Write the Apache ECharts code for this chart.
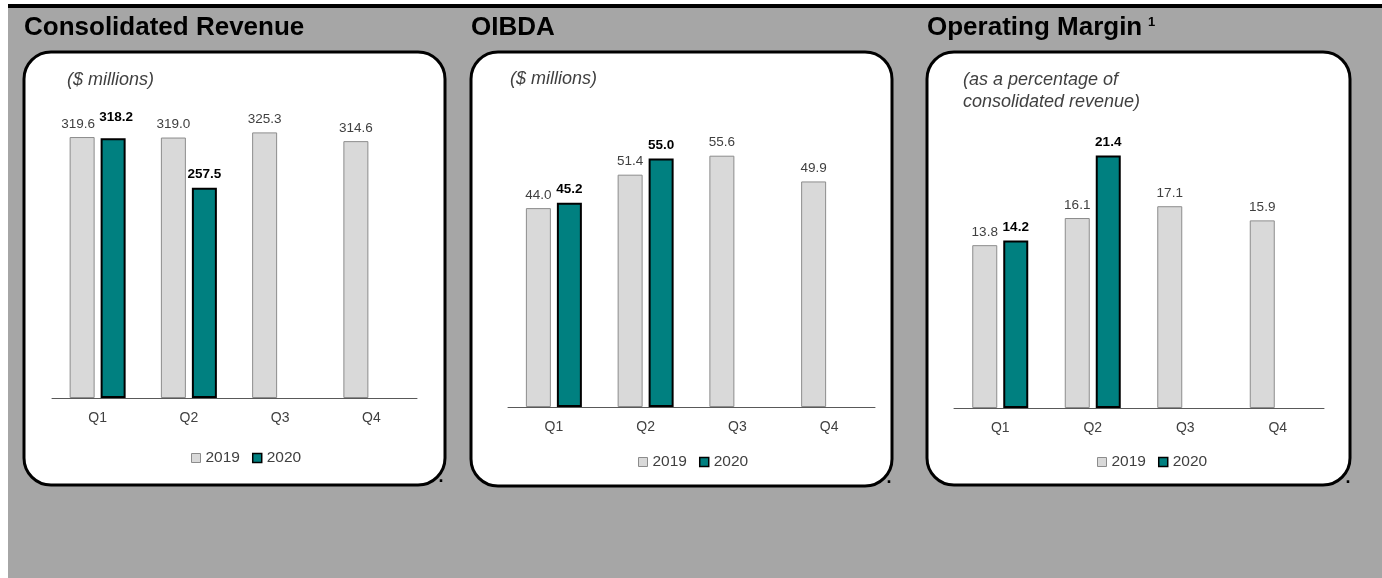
<!DOCTYPE html>
<html>
<head>
<meta charset="utf-8">
<script src="https://cdn.jsdelivr.net/npm/echarts@6/dist/echarts.min.js"></script>
<style>
  html, body { margin: 0; padding: 0; background: #ffffff; }
  #chart { width: 1382px; height: 578px; }
</style>
</head>
<body>
<div id="chart"></div>
<script>
// Quarterly results, 2019 vs 2020
const quarters = ['Q1', 'Q2', 'Q3', 'Q4'];
const seriesNames = ['2019', '2020'];

const revenue2019 = [319.6, 319.0, 325.3, 314.6];
const revenue2020 = [318.2, 257.5, null, null];

const oibda2019 = [44.0, 51.4, 55.6, 49.9];
const oibda2020 = [45.2, 55.0, null, null];

const margin2019 = [13.8, 16.1, 17.1, 15.9];
const margin2020 = [14.2, 21.4, null, null];

const panelTitles = ['Consolidated Revenue', 'OIBDA', 'Operating Margin'];
const panelUnits = ['($ millions)', '($ millions)', '(as a percentage of\nconsolidated revenue)'];

const SANS = "'Liberation Sans', Arial, sans-serif";

const GRAY_FILL = '#d9d9d9';
const GRAY_EDGE = '#8c8c8c';
const TEAL = '#008080';
const TEXT = '#404040';

// Layout of the three panels (pixels)
const panels = [
  { data: [revenue2019, revenue2020], box: [24, 52, 421, 433], titleX: 24,
    grid: { left: 52, width: 365, top: 71.4, height: 326.6 }, max: 400,
    unit: [67, 80], legend: [191, 450], dot: [441, 486],
    labelOffsets: [[[-4, 0]], [[3, -8]]] },
  { data: [oibda2019, oibda2020], box: [471, 52, 421, 434], titleX: 471,
    grid: { left: 508, width: 367, top: 90.6, height: 316.4 }, max: 70,
    unit: [510, 79], legend: [638, 454], dot: [889, 487],
    labelOffsets: [[], []] },
  { data: [margin2019, margin2020], box: [927, 52, 423, 433], titleX: 927,
    grid: { left: 954, width: 370, top: 54, height: 354 }, max: 30,
    unit: [963, 80], legend: [1097, 454], dot: [1348, 487],
    labelOffsets: [[], []] }
];

const grids = [], xAxes = [], yAxes = [], series = [], legends = [], graphics = [];

// page background: white margin, grey field, black rule along the top
graphics.push({ type: 'rect', z: -10, shape: { x: 8, y: 4, width: 1374, height: 574 }, style: { fill: '#a6a6a6' } });
graphics.push({ type: 'rect', z: -9, shape: { x: 8, y: 4, width: 1374, height: 4 }, style: { fill: '#000000' } });

panels.forEach((p, i) => {
  grids.push(Object.assign({ containLabel: false }, p.grid));
  xAxes.push({
    type: 'category', gridIndex: i, data: quarters,
    axisLine: { lineStyle: { color: '#595959', width: 1 } },
    axisTick: { show: false },
    axisLabel: { color: TEXT, fontFamily: SANS, fontSize: 14, margin: 13 }
  });
  yAxes.push({
    type: 'value', gridIndex: i, min: 0, max: p.max,
    show: false, splitLine: { show: false }
  });

  p.data.forEach((vals, s) => {
    const isNew = s === 1;
    const offs = p.labelOffsets[s] || [];
    series.push({
      type: 'bar', name: seriesNames[s], xAxisIndex: i, yAxisIndex: i,
      barWidth: 25, barGap: '24%',
      data: vals.map((v, k) => offs[k] ? { value: v, label: { offset: offs[k] } } : v),
      itemStyle: isNew
        ? { color: TEAL, borderColor: '#000000', borderWidth: 2 }
        : { color: GRAY_FILL, borderColor: GRAY_EDGE, borderWidth: 1 },
      label: {
        show: true, position: 'top', distance: 6,
        fontFamily: SANS, fontSize: 13.5,
        color: isNew ? '#000000' : TEXT,
        fontWeight: isNew ? 'bold' : 'normal',
        formatter: (d) => d.value == null ? '' : Number(d.value).toFixed(1)
      },
      emphasis: { disabled: true }
    });
  });

  legends.push({
    left: p.legend[0], top: p.legend[1], padding: 0,
    orient: 'horizontal', selectedMode: false,
    itemWidth: 9, itemHeight: 9, itemGap: 12,
    icon: 'rect',
    textStyle: { color: TEXT, fontFamily: SANS, fontSize: 15.5 },
    data: [
      { name: seriesNames[0], itemStyle: { color: GRAY_FILL, borderColor: GRAY_EDGE, borderWidth: 1 } },
      { name: seriesNames[1], itemStyle: { color: TEAL, borderColor: '#000000', borderWidth: 1.5 } }
    ]
  });

  // white rounded card behind each chart
  graphics.push({
    type: 'rect', z: -5,
    shape: { x: p.box[0], y: p.box[1], width: p.box[2], height: p.box[3], r: 27 },
    style: { fill: '#ffffff', stroke: '#000000', lineWidth: 3 }
  });
  // panel heading
  graphics.push({
    type: 'text', x: p.titleX, y: 28, z: 5,
    style: { text: panelTitles[i], fill: '#000000', font: "bold 26px " + SANS,
             textAlign: 'left', textVerticalAlign: 'middle' }
  });
  // unit note (first line centred on the given y)
  graphics.push({
    type: 'text', x: p.unit[0], y: p.unit[1] - 11, z: 5,
    style: { text: panelUnits[i], fill: TEXT, font: "italic 18px " + SANS,
             lineHeight: 22, textAlign: 'left', textVerticalAlign: 'top' }
  });
  // trailing full stop after each card
  graphics.push({
    type: 'text', x: p.dot[0], y: p.dot[1], z: 5,
    style: { text: '.', fill: '#000000', font: "bold 18px " + SANS,
             textAlign: 'center', textVerticalAlign: 'bottom' }
  });
});

// footnote marker on the margin heading
graphics.push({
  type: 'text', x: 1148, y: 22, z: 5,
  style: { text: '1', fill: '#000000', font: "bold 13px " + SANS,
           textAlign: 'left', textVerticalAlign: 'middle' }
});

const chart = echarts.init(document.getElementById('chart'), null, { renderer: 'canvas' });
chart.setOption({
  backgroundColor: '#ffffff',
  animation: false,
  grid: grids,
  xAxis: xAxes,
  yAxis: yAxes,
  legend: legends,
  series: series,
  graphic: { elements: graphics }
});
</script>
</body>
</html>
